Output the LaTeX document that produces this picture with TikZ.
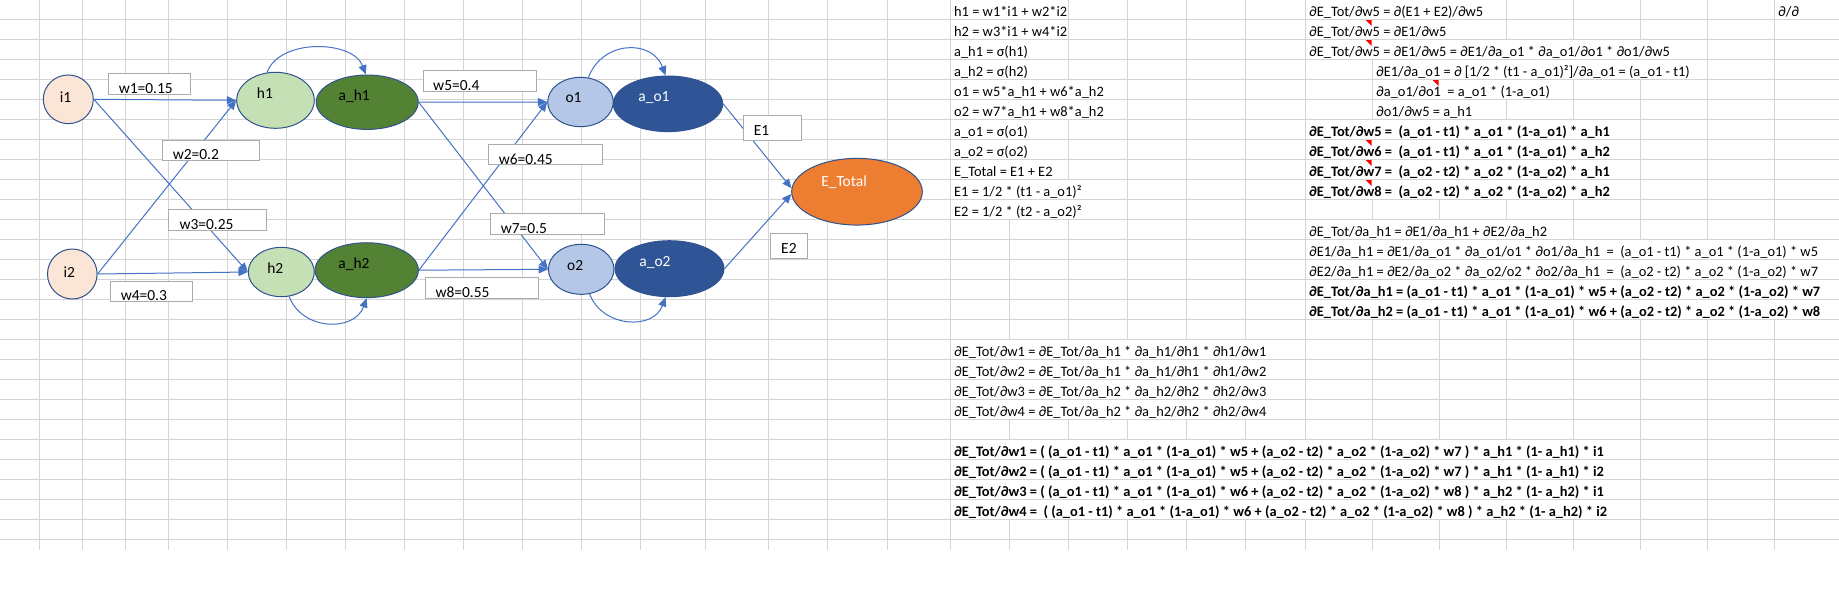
\documentclass[tikz,border=0pt]{standalone}
\usepackage{fontspec}
\setmainfont{Carlito}
\usetikzlibrary{arrows.meta,shapes.geometric}

\begin{document}
\begin{tikzpicture}[x=0.75pt,y=-0.75pt, line width=0.75pt,
        cell/.style={anchor=base west, fill=white, inner xsep=0.5pt, inner ysep=0pt,
            text height=12pt, text depth=2.25pt, font=\fontsize{10.8}{13}\selectfont},
        boldcell/.style={cell, font=\fontsize{10.8}{13}\selectfont\bfseries},
        neuron/.style={ellipse, draw=edgecolor, line width=0.75pt, inner sep=0pt},
        tag/.style={font=\fontsize{11.6}{14}\selectfont},
        wbox/.style={draw=boxcolor, fill=white, line width=0.75pt},
        wtext/.style={anchor=base west, inner sep=0pt, font=\fontsize{11.6}{14}\selectfont},
        link/.style={draw=linkcolor, line width=0.75pt, -{Triangle[length=7pt,width=6pt]}}]
        \definecolor{gridcolor}{HTML}{D4D4D4}
        \definecolor{inputcolor}{HTML}{FBE5D6}
        \definecolor{hiddencolor}{HTML}{C5E0B4}
        \definecolor{acthiddencolor}{HTML}{548235}
        \definecolor{outcolor}{HTML}{B4C7E7}
        \definecolor{actoutcolor}{HTML}{2F5597}
        \definecolor{totalcolor}{HTML}{ED7D31}
        \definecolor{edgecolor}{HTML}{2F528F}
        \definecolor{linkcolor}{HTML}{4472C4}
        \definecolor{boxcolor}{HTML}{ABABAB}
        \definecolor{notecolor}{HTML}{FF0000}

        \useasboundingbox[fill=white] (0,0) rectangle (1839,612);

        % Draw sheet grid
        \foreach \y in {19.5,39.5,...,539.5}
            \draw[gridcolor] (0,\y) -- (1839,\y);
        \foreach \x in {39.3,82.3,125.5,168.3,227.7,286.5,345.5,404.3,463.3,522.3,581.6,
                640.7,705,768.4,827.7,887,950.7,1009,1068,1127,1186.7,1245.7,1305.5,
                1372,1439,1506,1573,1640,1707,1774}
            \draw[gridcolor] (\x,0) -- (\x,550);

        % Forward pass cells
        \node[cell] (p0) at (953,16) {h1 = w1*i1 + w2*i2};
        \node[cell] (p1) at (953,36) {h2 = w3*i1 + w4*i2};
        \node[cell] (p2) at (953,56) {a\_h1 = σ(h1)};
        \node[cell] (p3) at (953,76) {a\_h2 = σ(h2)};
        \node[cell] (p4) at (953,96) {o1 = w5*a\_h1 + w6*a\_h2};
        \node[cell] (p5) at (953,116) {o2 = w7*a\_h1 + w8*a\_h2};
        \node[cell] (p6) at (953,136) {a\_o1 = σ(o1)};
        \node[cell] (p7) at (953,156) {a\_o2 = σ(o2)};
        \node[cell] (p8) at (953,176) {E\_Total = E1 + E2};
        \node[cell] (p9) at (953,196) {E1 = 1/2 * (t1 - a\_o1)²};
        \node[cell] (p10) at (953,216) {E2 = 1/2 * (t2 - a\_o2)²};

        % Output layer cells
        \node[cell] (q0) at (1308,16) {∂E\_Tot/∂w5 = ∂(E1 + E2)/∂w5};
        \node[cell] (q1) at (1308,36) {∂E\_Tot/∂w5 = ∂E1/∂w5};
        \node[cell] (q2) at (1308,56) {∂E\_Tot/∂w5 = ∂E1/∂w5 = ∂E1/∂a\_o1 * ∂a\_o1/∂o1 * ∂o1/∂w5};
        \node[cell] (q3) at (1375,76) {∂E1/∂a\_o1 = ∂ [1/2 * (t1 - a\_o1)²]/∂a\_o1 = (a\_o1 - t1)};
        \node[cell] (q4) at (1375,96) {∂a\_o1/∂o1 \ = a\_o1 * (1-a\_o1)};
        \node[cell] (q5) at (1375,116) {∂o1/∂w5 = a\_h1};
        \node[boldcell] (q6) at (1308,136) {∂E\_Tot/∂w5 = \ (a\_o1 - t1) * a\_o1 * (1-a\_o1) * a\_h1};
        \node[boldcell] (q7) at (1308,156) {∂E\_Tot/∂w6 = \ (a\_o1 - t1) * a\_o1 * (1-a\_o1) * a\_h2};
        \node[boldcell] (q8) at (1308,176) {∂E\_Tot/∂w7 = \ (a\_o2 - t2) * a\_o2 * (1-a\_o2) * a\_h1};
        \node[boldcell] (q9) at (1308,196) {∂E\_Tot/∂w8 = \ (a\_o2 - t2) * a\_o2 * (1-a\_o2) * a\_h2};
        \node[cell] (corner) at (1777,16) {∂/∂};

        % Hidden layer cells
        \node[cell] (q11) at (1308,236) {∂E\_Tot/∂a\_h1 = ∂E1/∂a\_h1 + ∂E2/∂a\_h2};
        \node[cell] (q12) at (1308,256) {∂E1/∂a\_h1 = ∂E1/∂a\_o1 * ∂a\_o1/o1 * ∂o1/∂a\_h1 \ = \ (a\_o1 - t1) * a\_o1 * (1-a\_o1) * w5};
        \node[cell] (q13) at (1308,276) {∂E2/∂a\_h1 = ∂E2/∂a\_o2 * ∂a\_o2/o2 * ∂o2/∂a\_h1 \ = \ (a\_o2 - t2) * a\_o2 * (1-a\_o2) * w7};
        \node[boldcell] (q14) at (1308,296) {∂E\_Tot/∂a\_h1 = (a\_o1 - t1) * a\_o1 * (1-a\_o1) * w5 + (a\_o2 - t2) * a\_o2 * (1-a\_o2) * w7};
        \node[boldcell] (q15) at (1308,316) {∂E\_Tot/∂a\_h2 = (a\_o1 - t1) * a\_o1 * (1-a\_o1) * w6 + (a\_o2 - t2) * a\_o2 * (1-a\_o2) * w8};

        % Input layer cells
        \node[cell] (p17) at (953,356) {∂E\_Tot/∂w1 = ∂E\_Tot/∂a\_h1 * ∂a\_h1/∂h1 * ∂h1/∂w1};
        \node[cell] (p18) at (953,376) {∂E\_Tot/∂w2 = ∂E\_Tot/∂a\_h1 * ∂a\_h1/∂h1 * ∂h1/∂w2};
        \node[cell] (p19) at (953,396) {∂E\_Tot/∂w3 = ∂E\_Tot/∂a\_h2 * ∂a\_h2/∂h2 * ∂h2/∂w3};
        \node[cell] (p20) at (953,416) {∂E\_Tot/∂w4 = ∂E\_Tot/∂a\_h2 * ∂a\_h2/∂h2 * ∂h2/∂w4};
        \node[boldcell] (p22) at (953,456) {∂E\_Tot/∂w1 = ( (a\_o1 - t1) * a\_o1 * (1-a\_o1) * w5 + (a\_o2 - t2) * a\_o2 * (1-a\_o2) * w7 ) * a\_h1 * (1- a\_h1) * i1};
        \node[boldcell] (p23) at (953,476) {∂E\_Tot/∂w2 = ( (a\_o1 - t1) * a\_o1 * (1-a\_o1) * w5 + (a\_o2 - t2) * a\_o2 * (1-a\_o2) * w7 ) * a\_h1 * (1- a\_h1) * i2};
        \node[boldcell] (p24) at (953,496) {∂E\_Tot/∂w3 = ( (a\_o1 - t1) * a\_o1 * (1-a\_o1) * w6 + (a\_o2 - t2) * a\_o2 * (1-a\_o2) * w8 ) * a\_h2 * (1- a\_h2) * i1};
        \node[boldcell] (p25) at (953,516) {∂E\_Tot/∂w4 = \ ( (a\_o1 - t1) * a\_o1 * (1-a\_o1) * w6 + (a\_o2 - t2) * a\_o2 * (1-a\_o2) * w8 ) * a\_h2 * (1- a\_h2) * i2};

        % Comment markers
        \foreach \r in {1,2,7,8,9}
            \fill[notecolor] (1365.5,20*\r) -- (1371.5,20*\r) -- (1371.5,20*\r+6) -- cycle;
        \fill[notecolor] (1432.5,80) -- (1438.5,80) -- (1438.5,86) -- cycle;

        % Draw network nodes
        \node[neuron, fill=inputcolor, minimum width=37.5pt, minimum height=36.5pt,
            label={[tag, xshift=-2pt, yshift=1.5pt]center:i1}] (i1) at (68.3,99.3) {};
        \node[neuron, fill=inputcolor, minimum width=37.2pt, minimum height=37.5pt,
            label={[tag, xshift=-2.2pt, yshift=1.7pt]center:i2}] (i2) at (72.3,274) {};
        \node[neuron, fill=hiddencolor, minimum width=58.2pt, minimum height=42pt,
            label={[tag, xshift=-7.9pt, yshift=5.2pt]center:h1}] (h1) at (275.5,100.3) {};
        \node[neuron, fill=acthiddencolor, minimum width=76.5pt, minimum height=40.8pt,
            label={[tag, xshift=-9.7pt, yshift=4.9pt]center:a\_h1}] (a_h1) at (367.2,102.2) {};
        \node[neuron, fill=hiddencolor, minimum width=49.5pt, minimum height=37pt,
            label={[tag, xshift=-4.5pt, yshift=3.2pt]center:h2}] (h2) at (281.3,272) {};
        \node[neuron, fill=acthiddencolor, minimum width=77.5pt, minimum height=41.2pt,
            label={[tag, xshift=-9.5pt, yshift=4.5pt]center:a\_h2}] (a_h2) at (366.7,270.2) {};
        \node[neuron, fill=outcolor, minimum width=49.2pt, minimum height=37pt,
            label={[tag, xshift=-5.2pt, yshift=3pt]center:o1}] (o1) at (580.5,102) {};
        \node[neuron, fill=actoutcolor, minimum width=82pt, minimum height=41.7pt,
            label={[tag, white, xshift=-10.5pt, yshift=4.5pt]center:a\_o1}] (a_o1) at (668,103.8) {};
        \node[neuron, fill=outcolor, minimum width=49.2pt, minimum height=37.5pt,
            label={[tag, xshift=-4.5pt, yshift=2.7pt]center:o2}] (o2) at (581.2,269.3) {};
        \node[neuron, fill=actoutcolor, minimum width=81.7pt, minimum height=42pt,
            label={[tag, white, xshift=-10.9pt, yshift=4.5pt]center:a\_o2}] (a_o2) at (669.5,268.7) {};
        \node[neuron, fill=totalcolor, minimum width=98pt, minimum height=50pt,
            label={[tag, white, xshift=-9.7pt, yshift=7pt]center:E\_Total}] (E_Total) at (857,191.7) {};

        % Draw connections
        \draw[link] (i1.east) -- (h1.west);
        \draw[link] (i1.east) -- (h2.west);
        \draw[link] (i2.east) -- (h1.west);
        \draw[link] (i2.east) -- (h2.west);
        \draw[link] (a_h1.east) -- (o1.west);
        \draw[link] (a_h1.east) -- (o2.west);
        \draw[link] (a_h2.east) -- (o1.west);
        \draw[link] (a_h2.east) -- (o2.west);
        \draw[link] (a_o1.east) -- (E_Total.177);
        \draw[link] (a_o2.east) -- (E_Total.182);

        % Draw activation loops
        \draw[link] (h1.107) to[out=70, in=110, looseness=0.95] (a_h1.93);
        \draw[link] (o1.72) to[out=70, in=110, looseness=1.3] (a_o1.95);
        \draw[link] (h2.288) to[out=-70, in=-110, looseness=1.2] (a_h2.270);
        \draw[link] (o2.289) to[out=-70, in=-110, looseness=1.2] (a_o2.262);

        % Weight labels
        \filldraw[wbox] (108.3,73.3) rectangle (190.3,94.3);
        \node[wtext] (w1) at (118.3,93) {w1=0.15};
        \filldraw[wbox] (162.3,140) rectangle (259.3,160.3);
        \node[wtext] (w2) at (172.3,159.3) {w2=0.2};
        \filldraw[wbox] (168.7,209.3) rectangle (266.7,230);
        \node[wtext] (w3) at (179,229.3) {w3=0.25};
        \filldraw[wbox] (110.3,281.7) rectangle (192.3,301);
        \node[wtext] (w4) at (120.3,300.5) {w4=0.3};
        \filldraw[wbox] (423.3,70.7) rectangle (536.7,91);
        \node[wtext] (w5) at (432.7,90.5) {w5=0.4};
        \filldraw[wbox] (488.3,144.7) rectangle (602.3,164.3);
        \node[wtext] (w6) at (498.3,164) {w6=0.45};
        \filldraw[wbox] (490.3,213.3) rectangle (604.3,234.3);
        \node[wtext] (w7) at (500.3,233.5) {w7=0.5};
        \filldraw[wbox] (425.3,277.3) rectangle (538.3,298.3);
        \node[wtext] (w8) at (435,297) {w8=0.55};
        \filldraw[wbox] (743.3,115.7) rectangle (801.7,140.3);
        \node[wtext] (E1) at (753.3,135.5) {E1};
        \filldraw[wbox] (770.7,233.7) rectangle (807.3,258.3);
        \node[wtext] (E2) at (780.7,253) {E2};
    \end{tikzpicture}
\end{document}
